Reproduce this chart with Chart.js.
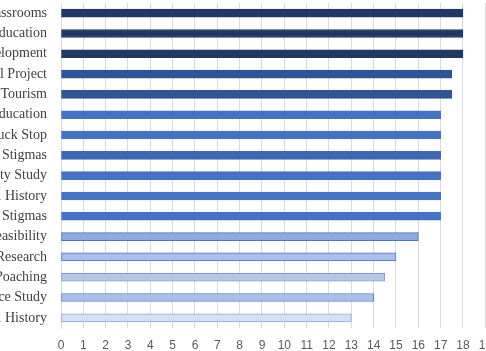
<!DOCTYPE html>
<html lang="en">
<head>
    <meta charset="UTF-8">
    <title>Scores by Project</title>
    <script src="https://cdn.jsdelivr.net/npm/chart.js"></script>
    <style>
        html, body { margin: 0; padding: 0; background: #fff; }
        #wrap { position: relative; width: 486px; height: 351px; overflow: hidden; }
        #projectChart { position: absolute; left: -150px; top: 0; }
    </style>
</head>
<body>
    <div id="wrap">
        <canvas id="projectChart" width="656" height="351"></canvas>
    </div>

    <script>
        // labels are cut off on the left in the original picture
        const projects = [
            'Outdoor Classrooms', 'Environmental Education', 'Sustainable Development',
            'Agricultural Project', 'Eco Tourism', 'Health Education', 'Truck Stop',
            'Mental Health Stigmas', 'Community Study', 'Local History', 'Social Stigmas',
            'Project Feasibility', 'Market Research', 'Wildlife Poaching',
            'Workforce Study', 'Natural History'
        ];
        const scores = [18, 18, 18, 17.5, 17.5, 17, 17, 17, 17, 17, 17, 16, 15, 14.5, 14, 13];
        const xTicks = [0, 1, 2, 3, 4, 5, 6, 7, 8, 9, 10, 11, 12, 13, 14, 15, 16, 17, 18, 19];

        const fillColors = [
            '#203864', '#203864', '#203864', '#2F5597', '#2F5597',
            '#4472C4', '#4472C4', '#3E68B5', '#4472C4', '#4472C4', '#4472C4',
            '#8FAADC', '#A9C1EA', '#B4C7E7', '#A9BFE5', '#D6E0F4'
        ];
        const edgeColors = [
            '#203864', '#203864', '#203864', '#2F5597', '#2F5597',
            '#4472C4', '#4472C4', '#3E68B5', '#4472C4', '#4472C4', '#4472C4',
            '#4A74C0', '#4472C4', '#7E9DD6', '#5B7FC7', '#8FAADC'
        ];

        const ctx = document.getElementById('projectChart').getContext('2d');
        new Chart(ctx, {
            type: 'bar',
            data: {
                labels: projects,
                datasets: [{
                    data: scores,
                    backgroundColor: fillColors,
                    borderColor: edgeColors,
                    borderWidth: 1,
                    borderSkipped: false,
                    barThickness: 8
                }]
            },
            options: {
                indexAxis: 'y',
                responsive: false,
                animation: false,
                layout: { padding: { top: 3, right: 20.67, bottom: 0, left: 0 } },
                plugins: {
                    legend: { display: false },
                    tooltip: { enabled: false }
                },
                scales: {
                    x: {
                        min: 0,
                        max: 19,
                        afterBuildTicks: axis => { axis.ticks = xTicks.map(v => ({ value: v })); },
                        afterFit: axis => { axis.height = 23; axis.paddingLeft = 0; axis.paddingRight = 0; },
                        grid: { color: '#D9D9D9', lineWidth: 1, drawTicks: false },
                        border: { display: false },
                        ticks: {
                            padding: 10,
                            color: '#595959',
                            font: { family: 'Liberation Sans', size: 12 }
                        }
                    },
                    y: {
                        afterFit: axis => { axis.width = 211; axis.paddingTop = 0; axis.paddingBottom = 0; },
                        grid: { display: false, drawTicks: false },
                        border: { color: '#D9D9D9' },
                        ticks: {
                            padding: 14,
                            autoSkip: false,
                            color: '#404040',
                            font: { family: 'Liberation Serif', size: 14 }
                        }
                    }
                }
            }
        });
    </script>
</body>
</html>
